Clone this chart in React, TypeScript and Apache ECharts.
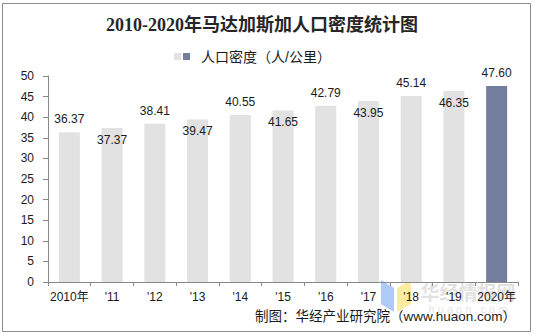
import React, { useEffect, useRef } from "react";
import * as echarts from "echarts";

const categories = ["2010年", "'11", "'12", "'13", "'14", "'15", "'16", "'17", "'18", "'19", "2020年"];
const densityValues = [36.37, 37.37, 38.41, 39.47, 40.55, 41.65, 42.79, 43.95, 45.14, 46.35, 47.6];
const labelTexts = ["36.37", "37.37", "38.41", "39.47", "40.55", "41.65", "42.79", "43.95", "45.14", "46.35", "47.60"];
const yTicks = [0, 5, 10, 15, 20, 25, 30, 35, 40, 45, 50];
const titleText = "2010-2020年马达加斯加人口密度统计图";
const legendText = "人口密度（人/公里）";
const sourceText = "制图：华经产业研究院（www.huaon.com）";

const GRAY = "#e1e2e1";
const BLUE = "#737d9e";
const FONT = "Liberation Sans, Arial, Noto Sans CJK SC, sans-serif";

export default function App() {
  const ref = useRef<HTMLDivElement>(null);
  useEffect(() => {
    document.body.style.margin = "0";
    const chart = echarts.init(ref.current!, null, { renderer: "svg" });
    const data = densityValues.map((v, i) => ({
      value: v,
      itemStyle: { color: i === densityValues.length - 1 ? BLUE : GRAY },
      label: {
        show: true,
        position: i % 2 === 0 ? "top" : "insideTop",
        distance: i % 2 === 0 ? 7 : 6,
        formatter: () => labelTexts[i],
        color: "#1a1a1a",
        fontSize: 12,
        fontFamily: FONT,
      },
    }));
    chart.setOption({
      animation: false,
      backgroundColor: "#ffffff",
      grid: { left: 48, right: 17, top: 76, bottom: 53, containLabel: false },
      xAxis: {
        type: "category",
        data: categories,
        boundaryGap: true,
        axisLine: { show: true, lineStyle: { color: "#888888", width: 1 } },
        axisTick: { show: true, alignWithLabel: false, length: 4, lineStyle: { color: "#888888" } },
        axisLabel: { color: "#1a1a1a", fontSize: 12, fontFamily: FONT, margin: 9, interval: 0 },
      },
      yAxis: {
        type: "value",
        min: 0,
        max: 50,
        interval: 5,
        axisLine: { show: true, lineStyle: { color: "#888888", width: 1 } },
        axisTick: { show: true, length: 5, inside: false, lineStyle: { color: "#888888" } },
        splitLine: { show: false },
        axisLabel: {
          color: "#1a1a1a",
          fontSize: 12,
          fontFamily: FONT,
          margin: 14,
          formatter: (v: number) => (yTicks.includes(v) ? String(v) : ""),
        },
      },
      series: [
        {
          type: "bar",
          name: legendText,
          data,
          barWidth: 21,
        },
      ],
      graphic: [
        {
          type: "rect",
          shape: { x: 2.5, y: 3.5, width: 528, height: 328 },
          style: { fill: "none", stroke: "#8c8c8c", lineWidth: 1 },
          silent: true,
        },
        {
          type: "text",
          x: 262,
          y: 25,
          style: {
            text: titleText,
            fontSize: 18,
            fontWeight: "bold",
            fontFamily: "Liberation Serif, Noto Sans CJK SC, serif",
            fill: "#262626",
            align: "center",
            verticalAlign: "middle",
          },
        },
        { type: "rect", shape: { x: 174, y: 53, width: 7, height: 7 }, style: { fill: GRAY } },
        { type: "rect", shape: { x: 183, y: 53, width: 7, height: 7 }, style: { fill: BLUE } },
        {
          type: "text",
          x: 201,
          y: 57,
          style: {
            text: legendText,
            fontSize: 14,
            fontFamily: FONT,
            fill: "#1a1a1a",
            align: "left",
            verticalAlign: "middle",
          },
        },
        {
          type: "polygon",
          shape: { points: [[381, 280], [394, 288], [394, 312], [381, 304]] },
          style: { fill: "#8ab4f8", opacity: 0.7 },
          silent: true,
        },
        {
          type: "polygon",
          shape: { points: [[397, 288], [411, 280], [411, 304], [397, 312]] },
          style: { fill: "#fde68a", opacity: 0.8 },
          silent: true,
        },
        {
          type: "text",
          x: 468,
          y: 291,
          style: {
            text: "华经情报网",
            fontSize: 19,
            fontWeight: "bold",
            fontFamily: "Noto Sans CJK SC, sans-serif",
            fill: "rgba(150,150,150,0.3)",
            align: "center",
            verticalAlign: "middle",
          },
          silent: true,
        },
        {
          type: "text",
          x: 468,
          y: 309,
          style: {
            text: "h u a o n . c o m",
            fontSize: 11,
            fontFamily: FONT,
            fill: "rgba(150,150,150,0.3)",
            align: "center",
            verticalAlign: "middle",
          },
          silent: true,
        },
        {
          type: "text",
          x: 516,
          y: 316,
          style: {
            text: sourceText,
            fontSize: 13.5,
            fontFamily: FONT,
            fill: "#1a1a1a",
            align: "right",
            verticalAlign: "middle",
          },
        },
      ],
    });
    return () => chart.dispose();
  }, []);
  return (
    <div
      ref={ref}
      style={{ position: "absolute", left: 0, top: 0, width: 535, height: 335 }}
    />
  );
}
